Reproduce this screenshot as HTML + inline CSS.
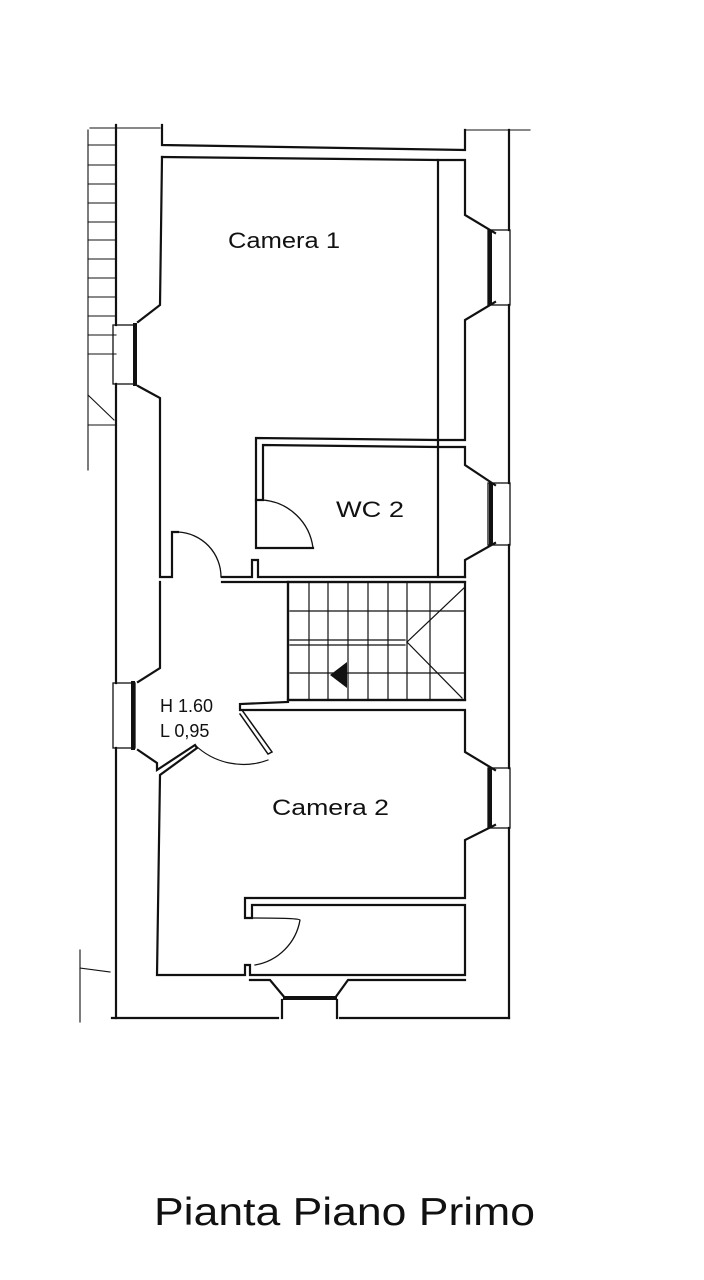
<!DOCTYPE html>
<html><head><meta charset="utf-8"><style>
html,body{margin:0;padding:0;background:#fff;width:704px;height:1280px;overflow:hidden}
svg{display:block}
text{font-family:"Liberation Sans",Arial,sans-serif;fill:#111}
</style></head><body>
<svg width="704" height="1280" viewBox="0 0 704 1280" xmlns="http://www.w3.org/2000/svg">
<g stroke="#111" stroke-width="2.2" fill="none" stroke-linecap="square">
<line x1="116" y1="125" x2="116" y2="325"/>
<line x1="116" y1="384" x2="116" y2="683"/>
<line x1="116" y1="748" x2="116" y2="1018"/>
<line x1="509" y1="130" x2="509" y2="230"/>
<line x1="509" y1="305" x2="509" y2="483"/>
<line x1="509" y1="545" x2="509" y2="768"/>
<line x1="509" y1="828" x2="509" y2="1018"/>
<line x1="112" y1="1018" x2="278" y2="1018"/>
<line x1="340" y1="1018" x2="509" y2="1018"/>
<polyline points="162,125 162,145 465,150 465,130"/>
<polyline points="162,157 438,160 465,160 465,215 495,233"/>
<polyline points="495,302 465,320 465,440 438,440 256,438 256,500 263,500 263,445 438,447 465,447 465,465 495,485"/>
<polyline points="495,543 465,560 465,577"/>
<line x1="438" y1="160" x2="438" y2="577"/>
<polyline points="162,157 160,305 138,322"/>
<polyline points="138,386 160,398 160,577 172,577 172,532 178,532"/>
<polyline points="256,500 256,548 313,548"/>
<path d="M263,500 A55,55 0 0 1 313,548" stroke-width="1.3"/>
<path d="M178,532 A45,45 0 0 1 221,577" stroke-width="1.3"/>
<polyline points="222,577 252,577 252,560 258,560 258,577 465,577"/>
<line x1="222" y1="582" x2="465" y2="582"/>
<polyline points="160,582 160,668 138,682"/>
<polyline points="138,750 157,763 157,770 195,745 197,748 160,775 157,975 245,975 245,965 250,965 250,975 465,975 465,905 252,905 252,918 245,918 245,898 465,898 465,840 495,825"/>
<polyline points="495,770 465,752 465,710 240,710 240,704 288,702 288,582"/>
<line x1="288" y1="700" x2="465" y2="700"/>
<rect x="288" y="582" width="177" height="118"/>
<g stroke-width="1.2">
<line x1="290" y1="640" x2="405" y2="640"/><line x1="290" y1="645" x2="405" y2="645"/>
<line x1="309" y1="582" x2="309" y2="700"/><line x1="328" y1="582" x2="328" y2="700"/>
<line x1="348" y1="582" x2="348" y2="700"/><line x1="368" y1="582" x2="368" y2="700"/>
<line x1="388" y1="582" x2="388" y2="700"/><line x1="407" y1="582" x2="407" y2="700"/>
<line x1="430" y1="582" x2="430" y2="700"/>
<line x1="290" y1="611" x2="465" y2="611"/><line x1="290" y1="673" x2="465" y2="673"/>
<line x1="407" y1="642" x2="465" y2="587"/><line x1="407" y1="642" x2="462" y2="698"/>
</g>
<polyline points="242,710 272,752 268,754 240,714" stroke-width="1.5"/>
<path d="M195,745 A70,70 0 0 0 268,760" stroke-width="1.2"/>
<path d="M252,918 Q300,918 300,920 A55,55 0 0 1 255,965" stroke-width="1.3"/>
<polyline points="250,980 270,980 285,998 335,998 348,980 465,980"/>
<line x1="282" y1="1000" x2="282" y2="1018"/><line x1="337" y1="1000" x2="337" y2="1018"/>
<rect x="113" y="325" width="22" height="59" stroke-width="1.3"/>
<line x1="135" y1="325" x2="135" y2="384" stroke-width="4"/>
<rect x="113" y="683" width="22" height="65" stroke-width="1.3"/>
<line x1="133" y1="683" x2="133" y2="748" stroke-width="4"/>
<rect x="488" y="230" width="22" height="75" stroke-width="1.3"/>
<line x1="490" y1="232" x2="490" y2="303" stroke-width="4"/>
<rect x="488" y="483" width="22" height="62" stroke-width="1.3"/>
<line x1="491" y1="485" x2="491" y2="543" stroke-width="4"/>
<rect x="488" y="768" width="22" height="60" stroke-width="1.3"/>
<line x1="490" y1="770" x2="490" y2="826" stroke-width="4"/>
<line x1="285" y1="998" x2="335" y2="998" stroke-width="4"/>
<g stroke-width="1.1">
<line x1="88" y1="130" x2="88" y2="470"/>
<line x1="88" y1="145" x2="116" y2="145"/><line x1="88" y1="165" x2="116" y2="165"/>
<line x1="88" y1="184" x2="116" y2="184"/><line x1="88" y1="203" x2="116" y2="203"/>
<line x1="88" y1="222" x2="116" y2="222"/><line x1="88" y1="240" x2="116" y2="240"/>
<line x1="88" y1="259" x2="116" y2="259"/><line x1="88" y1="278" x2="116" y2="278"/>
<line x1="88" y1="297" x2="116" y2="297"/><line x1="88" y1="316" x2="116" y2="316"/>
<line x1="88" y1="335" x2="116" y2="335"/><line x1="88" y1="354" x2="116" y2="354"/>
<line x1="88" y1="395" x2="114" y2="420"/><line x1="88" y1="425" x2="116" y2="425"/>
<line x1="80" y1="950" x2="80" y2="1022"/><line x1="80" y1="968" x2="110" y2="972"/>
<line x1="90" y1="128" x2="160" y2="128"/><line x1="465" y1="130" x2="530" y2="130"/>
</g>
</g>
<polygon points="330,675 347,662 347,688" fill="#111"/>
<text x="228" y="248" font-size="22" textLength="112" lengthAdjust="spacingAndGlyphs">Camera 1</text>
<text x="336" y="517" font-size="22" textLength="68" lengthAdjust="spacingAndGlyphs">WC 2</text>
<text x="272" y="815" font-size="22" textLength="117" lengthAdjust="spacingAndGlyphs">Camera 2</text>
<text x="160" y="712" font-size="18">H 1.60</text>
<text x="160" y="737" font-size="18">L 0,95</text>
<text x="154" y="1225" font-size="39" textLength="381" lengthAdjust="spacingAndGlyphs">Pianta Piano Primo</text>
</svg>
</body></html>
